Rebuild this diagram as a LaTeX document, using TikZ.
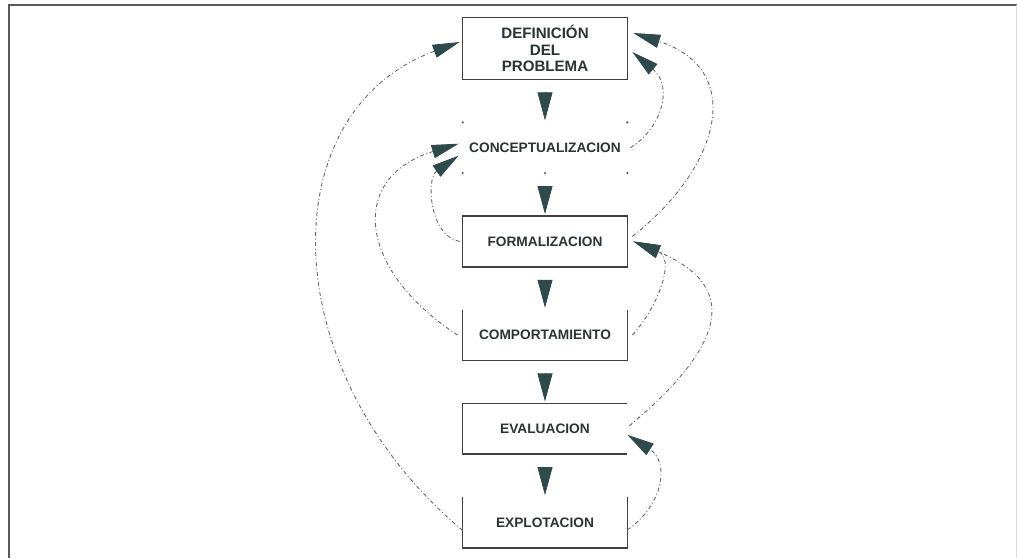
\documentclass[tikz,border=0pt]{standalone}
\usepackage{fontspec}
\setmainfont{Liberation Sans}
\usetikzlibrary{arrows.meta, positioning}
\definecolor{slate}{HTML}{2E4A4A}
\definecolor{ink}{HTML}{2B3333}

\tikzset{
  stage/.style={minimum width=3.28cm, minimum height=1cm, inner sep=0pt,
    text=ink, font=\fontsize{7.8}{9}\selectfont\bfseries, align=center},
  rim/.style={draw=black!75, line width=0.9pt},
  flow/.style={-{Triangle[length=0.56cm,width=0.3cm]}, slate,
    shorten <=0.26cm, shorten >=0.04cm},
  feedback/.style={black!60, line width=0.5pt,
    dash pattern=on 0.08cm off 0.05cm on 0.02cm off 0.05cm,
    -{Triangle[length=0.54cm,width=0.27cm,color=slate]}}
}

\begin{document}
\begin{tikzpicture}[node distance=0.86cm]
    \useasboundingbox (0,0) rectangle (20.34,-11.16);
    % frame
    \draw[black!65, line width=0.8pt] (0.18,-11.16) -- (0.18,-0.1) -- (20.34,-0.1);
    \draw[black!15, line width=0.4pt] (20.32,-0.1) -- (20.32,-11.16);

    % stages
    \node[stage, minimum height=1.22cm, font=\fontsize{8.6}{9.2}\selectfont\bfseries]
        (def) at (10.9,-0.97) {DEFINICIÓN\\DEL\\PROBLEMA};
    \node[stage, below=of def] (concept) {CONCEPTUALIZACION};
    \node[stage, below=of concept] (formal) {FORMALIZACION};
    \node[stage, below=of formal] (comport) {COMPORTAMIENTO};
    \node[stage, below=of comport] (eval) {EVALUACION};
    \node[stage, below=of eval] (explot) {EXPLOTACION};

    \draw[rim] (def.south west) rectangle (def.north east);
    \draw[rim] (formal.south west) rectangle (formal.north east);
    \draw[rim] (comport.north west) -- (comport.south west) -- (comport.south east) -- (comport.north east);
    \draw[rim] (eval.north east) -- (eval.north west) -- (eval.south west) -- (eval.south east);
    \draw[rim] (explot.north west) -- (explot.south west) -- (explot.south east) -- (explot.north east);
    \foreach \c in {north west, north east, south west, south east, south}
        \fill[black!60] (concept.\c) circle (0.025cm);

    % main sequence
    \foreach \a/\b in {def/concept, concept/formal, formal/comport, comport/eval, eval/explot}
        \draw[flow] (\a.south) -- (\b.north);

    % feedback on the left
    \draw[feedback] ([yshift=-0.16cm]explot.west)
        .. controls +(-3.83,3.22) and +(-3.76,-1.37) .. ([xshift=-0.06cm,yshift=0.13cm]def.west);
    \draw[feedback] ([xshift=-0.1cm]comport.west)
        .. controls +(-2.02,1.32) and +(-2.2,-0.67) .. ([xshift=-0.08cm,yshift=0.08cm]concept.west);
    \draw[feedback] ([xshift=-0.06cm]formal.west)
        .. controls +(-0.6,0.1) and +(-0.66,-0.46) .. ([xshift=-0.08cm,yshift=-0.16cm]concept.west);

    % feedback on the right
    \draw[feedback] ([xshift=0.06cm]concept.east)
        .. controls +(0.6,0.36) and +(0.84,-0.7) .. ([xshift=0.1cm,yshift=-0.07cm]def.east);
    \draw[feedback] ([xshift=0.1cm,yshift=0.1cm]formal.east)
        .. controls +(1.74,1.36) and +(2.28,-0.74) .. ([xshift=0.12cm,yshift=0.31cm]def.east);
    \draw[feedback] ([xshift=0.1cm]comport.east)
        .. controls +(0.54,0.6) and +(0.84,-0.34) .. ([xshift=0.12cm]formal.east);
    \draw[feedback] ([xshift=0.04cm,yshift=0.06cm]eval.east)
        .. controls +(1.84,1.54) and +(2.22,-0.92) .. ([xshift=0.12cm]formal.east);
    \draw[feedback] ([yshift=-0.15cm]explot.east)
        .. controls +(0.74,0.52) and +(0.84,-0.54) .. ([yshift=-0.12cm]eval.east);
\end{tikzpicture}
\end{document}
